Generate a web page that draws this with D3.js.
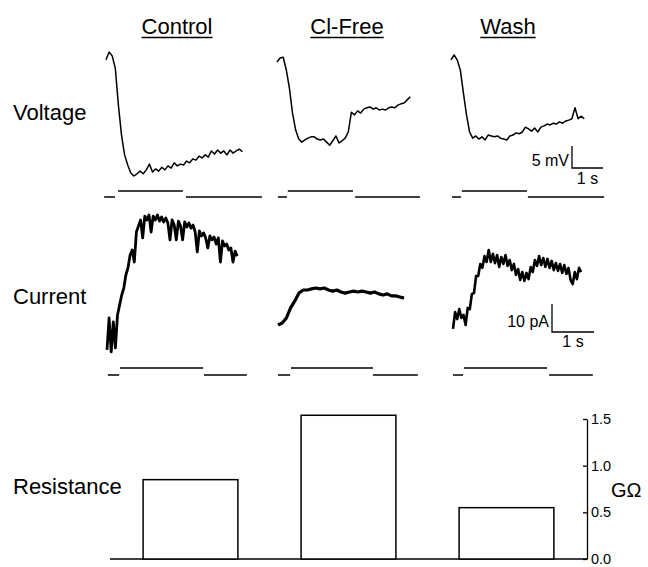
<!DOCTYPE html>
<html><head><meta charset="utf-8">
<script src="https://cdn.jsdelivr.net/npm/d3@7"></script>
<style>
html,body{margin:0;padding:0;background:#fff;}
svg{display:block;font-family:"Liberation Sans",Arial,Helvetica,sans-serif;}
</style></head>
<body>
<svg id="chart" width="648" height="567"></svg>
<script>
// ---------------- DATA ----------------
const conditions = ["Control", "Cl-Free", "Wash"];
const rowLabels = ["Voltage", "Current", "Resistance"];

// Voltage traces (mV, relative to start), sampled every 0.1 s
const voltageStep = 0.1;
const voltageControl = [-1.1,0.7,-0.2,-3.0,-11.4,-18.2,-22.7,-25.0,-26.8,-27.5,-27.0,-26.4,-27.0,-26.1,-24.8,-26.6,-25.9,-26.4,-25.5,-26.1,-25.2,-25.7,-24.5,-25.2,-24.8,-25.0,-24.1,-24.5,-23.6,-23.9,-23.0,-23.4,-22.7,-23.2,-21.8,-22.5,-21.6,-22.3,-21.8,-22.7,-21.6,-22.3,-21.8,-21.4,-22.0];
const voltageClFree = [-1.6,-0.7,-0.5,-3.4,-7.5,-13.2,-17.0,-19.1,-19.8,-19.3,-18.9,-18.6,-18.6,-19.1,-19.3,-19.1,-19.8,-20.5,-19.5,-18.4,-20.0,-19.5,-18.9,-17.5,-13.0,-13.6,-12.7,-13.2,-12.3,-12.0,-11.8,-12.3,-12.0,-12.5,-12.3,-12.5,-12.0,-11.8,-12.0,-11.4,-11.1,-10.9,-10.2,-9.5];
const voltageWash = [-1.1,0.0,-1.1,-3.4,-8.6,-13.6,-17.5,-18.9,-18.4,-19.1,-18.6,-19.3,-18.2,-18.4,-18.6,-18.4,-18.9,-19.1,-19.3,-18.4,-18.2,-17.7,-17.9,-17.5,-16.4,-16.8,-17.3,-16.6,-17.5,-16.4,-16.1,-15.7,-15.9,-15.5,-15.7,-15.2,-15.5,-15.0,-14.8,-14.5,-12.0,-14.5,-13.9,-14.5];

// Current traces (pA), sampled every 0.05 s (Cl-Free every 0.1 s)
const currentControlStep = 0.05;
const currentControl = [3.6,15.0,2.9,13.6,4.3,16.1,19.6,23.2,25.7,30.4,32.9,37.5,39.3,35.0,45.7,47.9,50.0,43.6,51.4,50.0,51.8,45.7,51.4,50.0,51.8,49.6,51.1,49.3,50.7,48.9,42.9,50.0,48.2,42.9,49.6,47.9,42.9,49.3,47.5,48.9,47.1,48.2,45.7,38.6,46.1,44.3,45.4,43.6,40.0,44.3,42.9,43.9,41.4,43.6,35.0,42.5,40.7,41.4,39.3,40.0,35.0,38.9,37.1];
const currentClFreeStep = 0.1;
const currentClFree = [12.5,13.2,15.0,18.6,21.1,23.9,25.0,25.0,25.4,25.7,25.4,25.7,25.0,24.6,25.0,24.3,23.9,24.3,24.6,24.3,24.6,24.3,23.9,24.3,23.6,23.2,23.6,22.9,22.9,22.5,22.1];
const currentWashStep = 0.05;
const currentWash = [11.1,17.1,14.6,18.2,15.0,16.1,12.5,18.6,18.2,23.6,23.9,30.0,30.0,34.3,32.9,37.1,35.0,39.3,35.0,37.9,34.6,37.5,33.2,36.8,34.3,37.5,33.6,35.7,32.1,34.3,30.4,32.5,28.6,31.4,28.2,31.1,28.9,33.2,31.4,35.7,33.6,37.1,33.9,36.4,33.2,36.1,32.9,35.4,32.1,34.6,31.8,34.3,31.1,33.9,30.7,32.9,28.6,27.1,31.4,28.9,32.9,31.4];

// Stimulus protocol segments: [start s, end s, level]
const stimVoltage = [
  [[-0.06,0.29,0],[0.39,2.48,1],[2.58,5.03,0]],
  [[0.03,0.32,0],[0.35,2.45,1],[2.52,4.61,0]],
  [[0.03,0.32,0],[0.35,2.45,1],[2.48,4.94,0]]
];
const stimCurrent = [
  [[0.02,0.29,0],[0.31,2.29,1],[2.31,3.33,0]],
  [[0.00,0.29,0],[0.31,2.26,1],[2.26,3.33,0]],
  [[0.00,0.24,0],[0.26,2.24,1],[2.29,3.33,0]]
];

// Resistance (GΩ)
const resistance = [0.85, 1.54, 0.55];
const resistanceTicks = [0, 0.5, 1.0, 1.5];

// Scale bars
const voltageBar = {mV: 5, s: 1};
const currentBar = {pA: 10, s: 1};

// ---------------- DRAWING ----------------
const svg = d3.select("#chart");
const FONT = '"Liberation Sans", Arial, Helvetica, sans-serif';

// column titles
const titleX = [177, 347, 508];
conditions.forEach((c, i) => {
  const t = svg.append("text").attr("x", titleX[i]).attr("y", 34)
    .attr("text-anchor", "middle").attr("font-size", 22).text(c);
  const bb = t.node().getBBox();
  svg.append("line").attr("x1", bb.x).attr("x2", bb.x + bb.width)
    .attr("y1", 37.5).attr("y2", 37.5).attr("stroke", "#000").attr("stroke-width", 1.6);
});

// row labels
const rowY = [120, 304, 494];
rowLabels.forEach((r, i) => {
  svg.append("text").attr("x", 13).attr("y", rowY[i]).attr("font-size", 22).text(r);
});

// Voltage row
const yV = d3.scaleLinear().domain([0, -30]).range([55, 187]);
const vX0 = [106, 277, 451];
const vPxPerS = 31;
const stimVY = d3.scaleLinear().domain([0, 1]).range([197, 191]);
const vTraces = [voltageControl, voltageClFree, voltageWash];
vTraces.forEach((arr, i) => {
  const x = d3.scaleLinear().domain([0, 1]).range([vX0[i], vX0[i] + vPxPerS]);
  const line = d3.line().x((d, j) => x(j * voltageStep)).y(d => yV(d)).curve(d3.curveLinear);
  svg.append("path").attr("d", line(arr)).attr("fill", "none")
    .attr("stroke", "#000").attr("stroke-width", 1.5).attr("stroke-linejoin", "round");
  stimVoltage[i].forEach(s => {
    svg.append("line").attr("x1", x(s[0])).attr("x2", x(s[1]))
      .attr("y1", stimVY(s[2])).attr("y2", stimVY(s[2]))
      .attr("stroke", "#000").attr("stroke-width", 1.5);
  });
  if (i === 2) {
    const bx = 572, by = 168;
    const h = Math.abs(yV(-voltageBar.mV) - yV(0));
    const w = x(voltageBar.s) - x(0);
    svg.append("path").attr("d", `M${bx},${by - h}V${by}H${bx + w}`)
      .attr("fill", "none").attr("stroke", "#000").attr("stroke-width", 1.3);
    svg.append("text").attr("x", bx - 3).attr("y", by - 2).attr("text-anchor", "end")
      .attr("font-size", 16).text(voltageBar.mV + " mV");
    svg.append("text").attr("x", bx + w / 2).attr("y", by + 16).attr("text-anchor", "middle")
      .attr("font-size", 16).text(voltageBar.s + " s");
  }
});

// Current row
const yI = d3.scaleLinear().domain([0, 50]).range([360, 220]);
const iX0 = [107, 278, 453];
const iPxPerS = 42;
const stimIY = d3.scaleLinear().domain([0, 1]).range([375, 368]);
const iTraces = [[currentControl, currentControlStep, 2.8], [currentClFree, currentClFreeStep, 3.2], [currentWash, currentWashStep, 2.6]];
iTraces.forEach(([arr, step, sw], i) => {
  const x = d3.scaleLinear().domain([0, 1]).range([iX0[i], iX0[i] + iPxPerS]);
  const line = d3.line().x((d, j) => x(j * step)).y(d => yI(d));
  svg.append("path").attr("d", line(arr)).attr("fill", "none")
    .attr("stroke", "#000").attr("stroke-width", sw).attr("stroke-linejoin", "round");
  stimCurrent[i].forEach(s => {
    svg.append("line").attr("x1", x(s[0])).attr("x2", x(s[1]))
      .attr("y1", stimIY(s[2])).attr("y2", stimIY(s[2]))
      .attr("stroke", "#000").attr("stroke-width", 1.5);
  });
  if (i === 2) {
    const bx = 552, by = 332;
    const h = Math.abs(yI(0) - yI(currentBar.pA));
    const w = x(currentBar.s) - x(0);
    svg.append("path").attr("d", `M${bx},${by - h}V${by}H${bx + w}`)
      .attr("fill", "none").attr("stroke", "#000").attr("stroke-width", 1.3);
    svg.append("text").attr("x", bx - 3).attr("y", by - 5).attr("text-anchor", "end")
      .attr("font-size", 16).text(currentBar.pA + " pA");
    svg.append("text").attr("x", bx + w / 2).attr("y", by + 15).attr("text-anchor", "middle")
      .attr("font-size", 16).text(currentBar.s + " s");
  }
});

// Resistance bars
const xR = d3.scaleBand().domain(conditions).range([111.5, 585.5]).paddingInner(0.4).paddingOuter(0.2);
const yR = d3.scaleLinear().domain([0, 1.5]).range([559, 419]);
svg.append("line").attr("x1", 110).attr("x2", 587).attr("y1", yR(0)).attr("y2", yR(0))
  .attr("stroke", "#000").attr("stroke-width", 1.3);
svg.selectAll("rect.bar").data(resistance).enter().append("rect")
  .attr("class", "bar")
  .attr("x", (d, i) => xR(conditions[i]))
  .attr("width", xR.bandwidth())
  .attr("y", d => yR(d))
  .attr("height", d => yR(0) - yR(d))
  .attr("fill", "#fff").attr("stroke", "#000").attr("stroke-width", 1.5);

const axis = d3.axisRight(yR).tickValues(resistanceTicks).tickFormat(d3.format(".1f"))
  .tickSizeInner(-4).tickSizeOuter(0).tickPadding(4);
const gA = svg.append("g").attr("transform", "translate(587,0)").call(axis);
gA.select(".domain").attr("stroke-width", 1.3);
gA.selectAll("line").attr("stroke-width", 1.3);
gA.selectAll("text").attr("font-size", 14.5).attr("font-family", FONT);
svg.append("text").attr("x", 611).attr("y", 497).attr("font-size", 20).text("GΩ");
</script>
</body></html>
